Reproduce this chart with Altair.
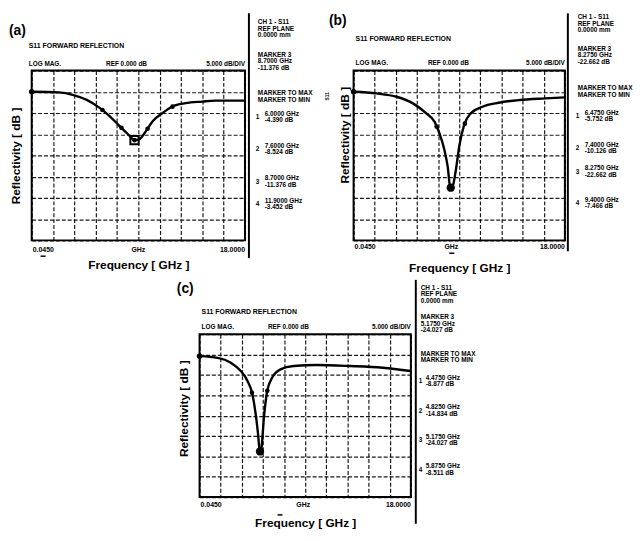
import altair as alt
import pandas as pd

FONT = "Liberation Sans"
F_START, F_STOP = 0.045, 18.0
DB_TOP, DB_BOTTOM = 5, -35

# ---------------- data ----------------
a_freq = [0.045, 2.32, 3.57, 4.68, 5.79, 6.62, 7.45, 8.15, 8.70, 9.12, 9.67, 10.23, 11.06, 11.89, 13.0, 14.39, 15.50, 18.0]
a_db = [0.0, -0.15, -0.77, -1.92, -3.85, -5.77, -8.08, -10.0, -11.38, -11.15, -9.23, -6.92, -5.0, -3.46, -2.69, -2.31, -2.08, -2.08]
a_mk_freq = [6.0, 7.6, 8.7, 9.8, 11.9]
a_mk_db = [-4.3, -8.5, -11.4, -8.7, -3.5]

b_freq = [0.045, 2.01, 3.69, 5.09, 6.22, 6.92, 7.34, 7.76, 8.04, 8.27, 8.46, 8.74, 9.02, 9.44, 10.0, 10.99, 12.39, 14.07, 16.32, 18.0]
b_db = [0.0, -0.39, -1.17, -2.73, -5.08, -7.03, -9.77, -13.67, -17.58, -22.66, -22.27, -18.36, -12.89, -7.81, -5.08, -3.52, -2.58, -1.95, -1.56, -1.33]
b_mk_freq = [7.1, 8.3, 9.5]
b_mk_db = [-8.2, -22.6, -7.5]

c_freq = [0.045, 1.59, 2.71, 3.55, 4.11, 4.53, 4.81, 5.01, 5.18, 5.32, 5.52, 5.80, 6.22, 6.92, 8.04, 10.0, 12.81, 15.61, 18.0]
c_db = [-0.4, -0.81, -2.02, -4.03, -6.45, -9.68, -14.52, -19.35, -24.19, -22.58, -15.32, -8.87, -5.65, -3.63, -2.82, -2.58, -2.82, -3.23, -4.03]
c_mk_freq = [4.5, 5.18, 5.8]
c_mk_db = [-9.4, -23.8, -8.9]

panel_labels = ["(a)", "(b)", "(c)"]
title_text = "S11 FORWARD REFLECTION"
header_left = "LOG MAG."
header_mid = "REF 0.000 dB"
header_right = "5.000 dB/DIV"
x_start_label = "0.0450"
x_mid_label = "GHz"
x_stop_label = "18.0000"
x_title = "Frequency [ GHz ]"
y_title = "Reflectivity [ dB ]"
side_tag = "S11"

a_marker3 = ["MARKER 3", "8.7000 GHz", "-11.376 dB"]
b_marker3 = ["MARKER 3", "8.2750 GHz", "-22.662 dB"]
c_marker3 = ["MARKER 3", "5.1750 GHz", "-24.027 dB"]
a_markers = [["6.0000 GHz", "-4.390 dB"], ["7.6000 GHz", "-8.524 dB"], ["8.7000 GHz", "-11.376 dB"], ["11.9000 GHz", "-3.452 dB"]]
b_markers = [["6.4750 GHz", "-5.752 dB"], ["7.4000 GHz", "-10.126 dB"], ["8.2750 GHz", "-22.662 dB"], ["9.4000 GHz", "-7.466 dB"]]
c_markers = [["4.4750 GHz", "-8.877 dB"], ["4.8250 GHz", "-14.834 dB"], ["5.1750 GHz", "-24.027 dB"], ["5.8750 GHz", "-8.511 dB"]]
ch_block = ["CH 1 - S11", "REF PLANE", "0.0000 mm"]
max_min_block = ["MARKER TO MAX", "MARKER TO MIN"]

ONE = pd.DataFrame({"k": [0]})


def txt(s, x, y, size=7, align="left", baseline="middle", lh=None, angle=None):
    kw = dict(text=s, align=align, baseline=baseline, font=FONT, fontSize=size,
              fontWeight="bold", color="black")
    if lh is not None:
        kw["lineHeight"] = lh
    if angle is not None:
        kw["angle"] = angle
    return alt.Chart(ONE).mark_text(**kw).encode(x=alt.value(x), y=alt.value(y))


def rule(x1, y1, x2=None, y2=None, w=2):
    enc = dict(x=alt.value(x1), y=alt.value(y1))
    if x2 is not None:
        enc["x2"] = alt.value(x2)
    if y2 is not None:
        enc["y2"] = alt.value(y2)
    return alt.Chart(ONE).mark_rule(color="black", strokeWidth=w).encode(**enc)


def panel(label, freq, db, mk_f, mk_db, marker3, markers, P):
    W, H = P["W"], P["H"]
    step = (F_STOP - F_START) / 10
    xgrid = [F_START + i * step for i in range(11)]
    ygrid = list(range(DB_BOTTOM, DB_TOP + 1, 5))
    xs = alt.Scale(domain=[F_START, F_STOP], nice=False, zero=False)
    ys = alt.Scale(domain=[DB_BOTTOM, DB_TOP], nice=False, zero=False)
    common = dict(grid=True, gridColor="black", gridDash=[4, 2], gridWidth=1.2,
                  gridOpacity=0.9, labels=False, ticks=False, domain=False,
                  titleFont=FONT, titleFontSize=12, titleFontWeight="bold",
                  titleColor="black")
    xaxis = alt.Axis(values=xgrid, title=x_title, titlePadding=P["xtp"], **common)
    yaxis = alt.Axis(values=ygrid, title=y_title, titlePadding=P["ytp"],
                     titleY=P["yty"], **common)
    X = alt.X("f:Q", scale=xs, axis=xaxis)
    Y = alt.Y("db:Q", scale=ys, axis=yaxis)

    df = pd.DataFrame({"f": freq, "db": db})
    line = alt.Chart(df).mark_line(color="black", strokeWidth=2.4,
                                   interpolate="monotone").encode(x=X, y=Y)

    mdf = pd.DataFrame({"f": mk_f, "db": mk_db})
    pts = alt.Chart(mdf).mark_point(filled=True, color="black", size=22, opacity=1).encode(x=X, y=Y)
    mn = mdf.loc[[mdf["db"].idxmin()]]
    big = alt.Chart(mn).mark_point(filled=P["minfill"], shape=P["minshape"], color="black",
                                   size=70, strokeWidth=2, opacity=1).encode(x=X, y=Y)
    ref = alt.Chart(pd.DataFrame({"f": [freq[0]], "db": [db[0]]})).mark_point(
        filled=True, color="black", size=30, opacity=1).encode(x=X, y=Y)

    layers = [line, pts, big, ref]
    layers.append(txt(label, P["lab"][0], P["lab"][1], size=14))
    layers.append(txt(title_text, P["tit"][0], P["tit"][1], size=7))
    layers.append(txt(header_left, P["tit"][0], P["hdr"], size=6.5))
    layers.append(txt(header_mid, P["hmid"], P["hdr"], size=6.5, align="center"))
    layers.append(txt(header_right, W, P["hdr"], size=6.5, align="right"))
    layers.append(txt(x_start_label, 1, H + P["bot"], size=7))
    layers.append(txt(x_mid_label, P["ghz"], H + P["bot"], size=7, align="center"))
    layers.append(txt(x_stop_label, W, H + P["bot"], size=7, align="right"))
    layers.append(rule(P["dash"][0], H + P["dash"][2], P["dash"][1], None, w=1.5))
    layers.append(rule(P["rx"], P["ry"][0], None, P["ry"][1], w=2))
    if P.get("tag") is not None:
        layers.append(txt(side_tag, P["tag"][0], P["tag"][1], size=5, align="center", angle=270))
    bx, mx, nx = P["bx"], P["mx"], P["nx"]
    tops = P["tops"]
    layers.append(txt(ch_block, bx, tops[0], size=6.5, baseline="top", lh=6.5))
    layers.append(txt(marker3, bx, tops[1], size=6.5, baseline="top", lh=6.5))
    layers.append(txt(max_min_block, bx, tops[2], size=6.5, baseline="top", lh=6.5))
    for i, m in enumerate(markers):
        layers.append(txt(m, mx, tops[3 + i], size=6.5, baseline="top", lh=6.5))
        layers.append(txt(str(i + 1), nx, tops[3 + i] + 6.5, size=6.5))
    return alt.layer(*layers).properties(width=W, height=H)


PA = dict(W=216, H=172, xtp=19, ytp=9, yty=86, minfill=False, minshape="square",
          lab=(-23, -40), tit=(-3, -25), hdr=-7, hmid=96, bot=10, ghz=108,
          dash=(9, 14, 16), rx=220, ry=(-58, 190), bx=229, mx=236, nx=227,
          tops=[-52, -19, 20, 41, 73, 106, 129])
PB = dict(W=214, H=172, xtp=23, ytp=2, yty=65, minfill=True, minshape="circle",
          lab=(-25, -50), tit=(2, -32), hdr=-8, hmid=96, bot=7, ghz=99,
          dash=(97, 102, 13), rx=217, ry=(-58, 183), bx=227, mx=234, nx=225,
          tops=[-57, -25, 15, 40, 72, 96, 128], tag=(-27, 26))
PC = dict(W=214, H=165, xtp=21, ytp=9, yty=75, minfill=True, minshape="circle",
          lab=(-23, -46), tit=(2, -22), hdr=-7, hmid=90, bot=8, ghz=105,
          dash=(79, 84, 18), rx=219, ry=(-55, 192), bx=224, mx=229, nx=222,
          tops=[-50, -20, 17, 41, 71, 101, 131])

pa = panel(panel_labels[0], a_freq, a_db, a_mk_freq, a_mk_db, a_marker3, a_markers, PA)
pb = panel(panel_labels[1], b_freq, b_db, b_mk_freq, b_mk_db, b_marker3, b_markers, PB)
pc = panel(panel_labels[2], c_freq, c_db, c_mk_freq, c_mk_db, c_marker3, c_markers, PC)

spacer = alt.Chart(ONE).mark_point(opacity=0, size=1).encode(
    x=alt.value(1), y=alt.value(1)).properties(
    width=136, height=10, view=alt.ViewBackground(fill="white", stroke="white", strokeWidth=0))

top = alt.hconcat(pa, pb, spacing=10)
bottom = alt.hconcat(spacer, pc, spacing=10)
chart = alt.vconcat(top, bottom, spacing=3).properties(
    padding=0, background="white").configure_view(stroke="black", strokeWidth=2)

chart.save("out.html", embed_options={"renderer": "svg", "actions": False})
